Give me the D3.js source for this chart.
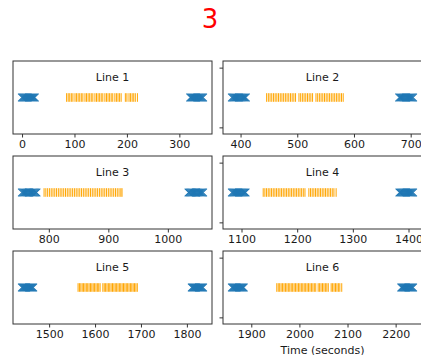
<!DOCTYPE html>
<html>
<head>
<meta charset="utf-8">
<script src="https://cdn.jsdelivr.net/npm/d3@7"></script>
<style>
  html, body { margin: 0; padding: 0; background: #fff; }
  svg { display: block; font-family: "DejaVu Sans", sans-serif; }
</style>
</head>
<body>
<svg id="chart" width="421" height="355"></svg>
<script>
// Panel titles
const titles = ["Line 1", "Line 2", "Line 3", "Line 4", "Line 5", "Line 6"];

// Start-of-line markers (seconds)
const startMarks = [
  [0, 2, 4, 6, 8, 10, 12, 14, 16, 18, 20, 22, 24],
  [385, 387, 389, 391, 393, 395, 397, 399, 401, 403, 405, 407, 409],
  [755, 757, 759, 761, 763, 765, 767, 769, 771, 773, 775, 777, 779],
  [1083, 1085, 1087, 1089, 1091, 1093, 1095, 1097, 1099, 1101, 1103, 1105, 1107],
  [1441, 1443, 1445, 1447, 1449, 1451, 1453, 1455, 1457, 1459, 1461, 1463, 1465],
  [1860, 1862, 1864, 1866, 1868, 1870, 1872, 1874, 1876, 1878, 1880, 1882, 1884]
];

// End-of-line markers (seconds)
const endMarks = [
  [321, 323, 325, 327, 329, 331, 333, 335, 337, 339, 341, 343, 345],
  [680, 682, 684, 686, 688, 690, 692, 694, 696, 698, 700, 702, 704],
  [1035, 1037, 1039, 1041, 1043, 1045, 1047, 1049, 1051, 1053, 1055, 1057, 1059],
  [1384, 1386, 1388, 1390, 1392, 1394, 1396, 1398, 1400, 1402, 1404, 1406, 1408],
  [1811, 1813, 1815, 1817, 1819, 1821, 1823, 1825, 1827, 1829, 1831, 1833, 1835],
  [2212, 2214, 2216, 2218, 2220, 2222, 2224, 2226, 2228, 2230, 2232, 2234, 2236]
];

// Events within each line (seconds)
const eventMarks = [
  [85, 88, 91, 94, 97, 101, 104, 107, 110, 113, 116, 120, 123, 126, 129, 132, 135, 139, 142,
   145, 148, 151, 154, 158, 161, 164, 167, 170, 173, 177, 180, 183, 186, 189,
   197, 200, 204, 207, 210, 213, 216, 220],
  [446, 449, 452, 455, 458, 461, 464, 467, 470, 473, 476, 479, 482, 485, 488, 491, 494, 497,
   503, 506, 509, 512, 515, 518, 521, 524, 527,
   533, 536, 539, 542, 545, 548, 551, 554, 557, 560, 563, 566, 569, 572, 575, 578, 581],
  [792, 795, 798, 801, 804, 807, 810, 813, 816, 819, 822, 825, 828, 831, 834, 837, 840, 843,
   846, 849, 852, 855, 858, 861, 864, 867, 870, 873, 876, 879, 882, 885, 888, 891, 894, 897,
   900, 903, 906, 909, 912, 915, 918, 921, 923],
  [1139, 1142, 1145, 1148, 1151, 1154, 1157, 1160, 1163, 1166, 1169, 1172, 1175, 1178, 1181,
   1184, 1187, 1190, 1193, 1196, 1199, 1202, 1205, 1208, 1211, 1214,
   1221, 1224, 1227, 1230, 1233, 1236, 1239, 1242, 1245, 1248, 1251, 1254, 1257, 1260, 1263,
   1266, 1270],
  [1563, 1566, 1569, 1572, 1575, 1578, 1581, 1584, 1587, 1590, 1593, 1596, 1599, 1602, 1605,
   1608, 1611, 1617, 1620, 1623, 1626, 1629, 1632, 1635, 1638, 1641, 1644, 1647, 1650, 1653,
   1656, 1659, 1662, 1665, 1668, 1671, 1674, 1677, 1680, 1683, 1686, 1689, 1692],
  [1953, 1956, 1959, 1962, 1965, 1968, 1971, 1974, 1977, 1980, 1983, 1986, 1989, 1992, 1995,
   1998, 2001, 2004, 2007, 2010, 2013, 2016, 2019, 2022, 2025, 2028, 2031, 2034,
   2039, 2042, 2045, 2048, 2051, 2054, 2057, 2060, 2066, 2069, 2072, 2075, 2078, 2081,
   2084, 2088]
];

// Tick labels on each x axis
const xTicks = [
  [0, 100, 200, 300],
  [400, 500, 600, 700],
  [800, 900, 1000],
  [1100, 1200, 1300, 1400],
  [1500, 1600, 1700, 1800],
  [1900, 2000, 2100, 2200]
];

// Shared y level for all markers and the y ticks shown on the right column
const markerLevel = 1;
const yTicks = [0.955, 1.045];

const svg = d3.select("#chart");
const colLeft = [13, 223];
const rowTop = [61, 156, 251];
const panelW = 199, panelH = 73;
const blue = "#1f77b4", orange = "#ffa500";
const textColor = "#1a1a1a";
const fontSize = 11;

svg.append("text")
  .attr("x", 210).attr("y", 28)
  .attr("text-anchor", "middle")
  .attr("font-size", 26)
  .attr("fill", "red")
  .text("3");

titles.forEach((title, i) => {
  const col = i % 2, row = Math.floor(i / 2);
  const g = svg.append("g")
    .attr("transform", `translate(${colLeft[col]},${rowTop[row]})`);

  const all = startMarks[i].concat(endMarks[i], eventMarks[i]);
  const [lo, hi] = d3.extent(all);
  const pad = (hi - lo) * 0.05;
  const x = d3.scaleLinear().domain([lo - pad, hi + pad]).range([0, panelW]);
  const y = d3.scaleLinear().domain([0.945, 1.055]).range([panelH, 0]);

  // clip so marks stay within the frame
  const clipId = "clip" + i;
  g.append("clipPath").attr("id", clipId)
    .append("rect").attr("width", panelW).attr("height", panelH);
  const plot = g.append("g").attr("clip-path", `url(#${clipId})`);

  // orange vertical event markers
  plot.selectAll("line.ev").data(eventMarks[i]).join("line")
    .attr("class", "ev")
    .attr("x1", d => x(d)).attr("x2", d => x(d))
    .attr("y1", y(markerLevel) - 4.3).attr("y2", y(markerLevel) + 4.3)
    .attr("stroke", orange).attr("stroke-width", 1);

  // blue x markers at the start and end of each line
  const xs = startMarks[i].concat(endMarks[i]);
  const hw = 4, hh = 3.8;
  plot.selectAll("path.xm").data(xs).join("path")
    .attr("class", "xm")
    .attr("d", d => {
      const cx = x(d), cy = y(markerLevel);
      return `M${cx - hw},${cy - hh}L${cx + hw},${cy + hh}M${cx - hw},${cy + hh}L${cx + hw},${cy - hh}`;
    })
    .attr("stroke", blue).attr("stroke-width", 1.1).attr("fill", "none");

  // frame
  g.append("rect")
    .attr("width", panelW).attr("height", panelH)
    .attr("fill", "none").attr("stroke", "#333").attr("stroke-width", 1);

  // x axis
  const ax = g.append("g")
    .attr("transform", `translate(0,${panelH})`)
    .call(d3.axisBottom(x).tickValues(xTicks[i]).tickSize(3.5).tickPadding(3).tickFormat(d3.format("d")));
  ax.select(".domain").remove();
  ax.selectAll("text").attr("font-size", fontSize).attr("fill", textColor)
    .attr("font-family", "DejaVu Sans, sans-serif");
  ax.selectAll("line").attr("stroke", "#333");

  // y ticks (no labels) on the right column
  if (col === 1) {
    const ay = g.append("g")
      .call(d3.axisLeft(y).tickValues(yTicks).tickSize(3.5).tickFormat(""));
    ay.select(".domain").remove();
    ay.selectAll("line").attr("stroke", "#333");
  }

  // title
  g.append("text")
    .attr("x", panelW / 2).attr("y", 20)
    .attr("text-anchor", "middle")
    .attr("font-size", fontSize).attr("fill", textColor)
    .text(title);

  if (i === titles.length - 1) {
    g.append("text")
      .attr("x", panelW / 2).attr("y", panelH + 29.5)
      .attr("text-anchor", "middle")
      .attr("font-size", fontSize).attr("fill", textColor)
      .text("Time (seconds)");
  }
});
</script>
</body>
</html>
